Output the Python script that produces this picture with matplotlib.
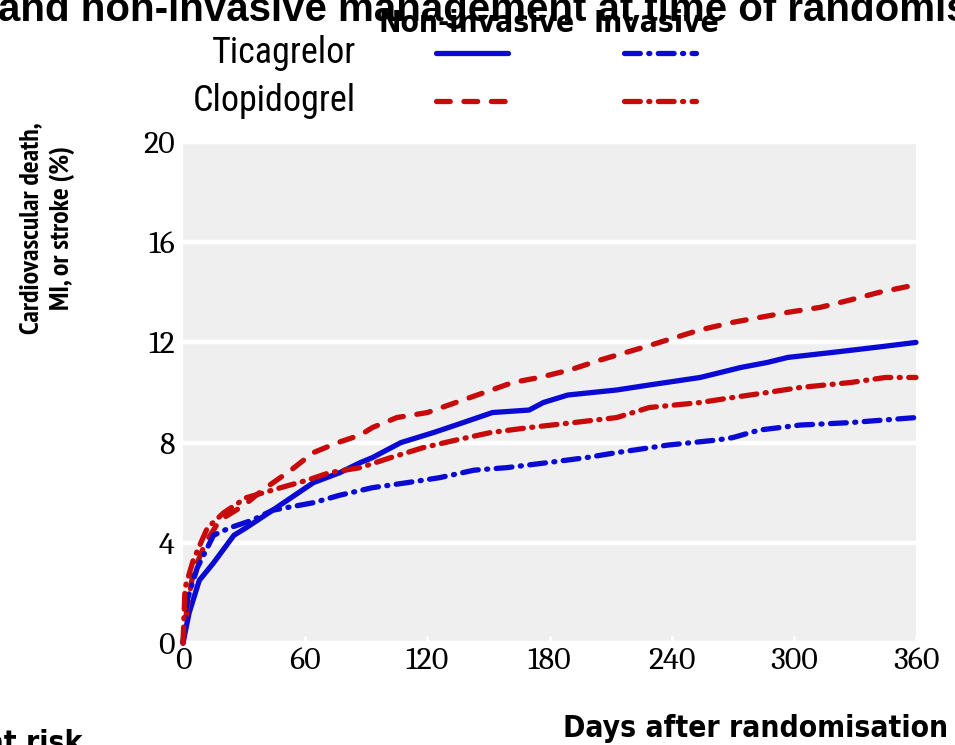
import matplotlib
matplotlib.use('Agg')
import matplotlib.pyplot as plt
from matplotlib.lines import Line2D

# Kaplan-Meier style curves (days, cumulative %)
tica_noninv_days = [0, 3, 8, 15, 25, 31, 44, 64, 77, 87, 93, 107, 123, 134, 152, 170, 177, 189, 213, 229, 254, 274, 287, 297, 319, 340, 360]
tica_noninv_pct = [0, 1.2, 2.5, 3.2, 4.3, 4.6, 5.3, 6.4, 6.8, 7.2, 7.4, 8.0, 8.4, 8.7, 9.2, 9.3, 9.6, 9.9, 10.1, 10.3, 10.6, 11.0, 11.2, 11.4, 11.6, 11.8, 12.0]

clop_noninv_days = [0, 2, 5, 11, 18, 30, 39, 53, 64, 76, 87, 93, 105, 120, 134, 148, 162, 175, 190, 205, 226, 254, 270, 297, 313, 328, 342, 360]
clop_noninv_pct = [0, 1.4, 2.8, 4.0, 4.9, 5.5, 6.1, 6.9, 7.6, 8.0, 8.3, 8.6, 9.0, 9.2, 9.6, 10.0, 10.4, 10.6, 10.9, 11.3, 11.8, 12.5, 12.8, 13.2, 13.4, 13.7, 14.0, 14.3]

tica_inv_days = [0, 2, 7, 15, 23, 34, 44, 64, 77, 93, 110, 126, 143, 159, 179, 198, 213, 238, 262, 270, 283, 303, 328, 360]
tica_inv_pct = [0, 1.7, 3.0, 4.3, 4.6, 4.9, 5.3, 5.6, 5.9, 6.2, 6.4, 6.6, 6.9, 7.0, 7.2, 7.4, 7.6, 7.9, 8.1, 8.2, 8.5, 8.7, 8.8, 9.0]

clop_inv_days = [0, 1, 5, 12, 20, 31, 48, 61, 72, 87, 102, 118, 134, 151, 170, 192, 213, 229, 254, 270, 287, 303, 328, 345, 360]
clop_inv_pct = [0, 2.2, 3.3, 4.6, 5.2, 5.8, 6.2, 6.5, 6.8, 7.0, 7.4, 7.8, 8.1, 8.4, 8.6, 8.8, 9.0, 9.4, 9.6, 9.8, 10.0, 10.2, 10.4, 10.6, 10.6]

x_ticks = [0, 60, 120, 180, 240, 300, 360]
y_ticks = [0, 4, 8, 12, 16, 20]

BLUE = '#0a0ad2'
RED = '#c80a0a'
LW = 3.8
dashed = (0, (2.6, 2.6))
dashdot = (0, (3.0, 1.6, 0.2, 1.6))

narrow = 'PT Sans Narrow'
cond = 'Roboto Condensed'
heavy = dict(family='DejaVu Sans', fontstretch='condensed', fontweight='bold')
tickfont = 'Caladea'

W, H = 955, 745
fig = plt.figure(figsize=(W / 100, H / 100), dpi=100)
ax = fig.add_axes([183 / W, 1 - 643 / H, (916 - 183) / W, (643 - 142) / H])
ax.set_facecolor('#efefef')

series = [
    (tica_noninv_days, tica_noninv_pct, BLUE, '-'),
    (clop_noninv_days, clop_noninv_pct, RED, dashed),
    (tica_inv_days, tica_inv_pct, BLUE, dashdot),
    (clop_inv_days, clop_inv_pct, RED, dashdot),
]
for d, p, c, ls in series:
    ax.plot(d, p, color=c, lw=LW, ls=ls, dash_capstyle='round',
            solid_capstyle='round', clip_on=False, zorder=3)

ax.set_xlim(0, 360)
ax.set_ylim(0, 20)
ax.set_xticks(x_ticks)
ax.set_yticks(y_ticks)
ax.grid(axis='y', color='white', lw=3.2)
ax.set_axisbelow(True)
for s in ax.spines.values():
    s.set_visible(False)
ax.tick_params(axis='y', length=0, pad=6)
ax.tick_params(axis='x', length=5, direction='in', color='white', width=2, pad=3)
for lab in ax.get_xticklabels() + ax.get_yticklabels():
    lab.set_fontfamily(tickfont)
    lab.set_fontsize(23)

# axis titles
fig.text(47 / W, 1 - 228 / H, 'Cardiovascular death,\nMI, or stroke (%)', rotation=90,
         ha='center', va='center', multialignment='center', fontsize=20,
         fontweight='bold', family=narrow, linespacing=1.3)
fig.text(948 / W, 1 - 737 / H, 'Days after randomisation', ha='right', va='baseline',
         fontsize=21.5, **heavy)
fig.text(82 / W, -7 / H, 'Number at risk', ha='right', va='baseline',
         fontsize=21.5, **heavy)

# title, cut off at the top of the picture
fig.text(-2 / W, 1 - 21 / H, 'and non-invasive management at time of randomisation',
         ha='left', va='baseline', fontsize=29, fontweight='bold', family='Liberation Sans')

# legend drawn by hand
fig.text(477 / W, 1 - 32 / H, 'Non-invasive', ha='center', va='baseline',
         fontsize=21.5, **heavy)
fig.text(656 / W, 1 - 32 / H, 'Invasive', ha='center', va='baseline',
         fontsize=21.5, **heavy)
fig.text(356 / W, 1 - 53 / H, 'Ticagrelor', ha='right', va='center', fontsize=26, family=cond)
fig.text(356 / W, 1 - 101 / H, 'Clopidogrel', ha='right', va='center', fontsize=26, family=cond)

legend_rows = [
    (53, BLUE, '-', dashdot),
    (101, RED, dashed, dashdot),
]
for yy, c, ls1, ls2 in legend_rows:
    fig.add_artist(Line2D([436 / W, 508 / W], [1 - yy / H] * 2, color=c, lw=LW, ls=ls1,
                          dash_capstyle='round', solid_capstyle='round'))
    fig.add_artist(Line2D([624 / W, 696 / W], [1 - yy / H] * 2, color=c, lw=LW, ls=ls2,
                          dash_capstyle='round', solid_capstyle='round'))

fig.savefig('out.png', dpi=100)
